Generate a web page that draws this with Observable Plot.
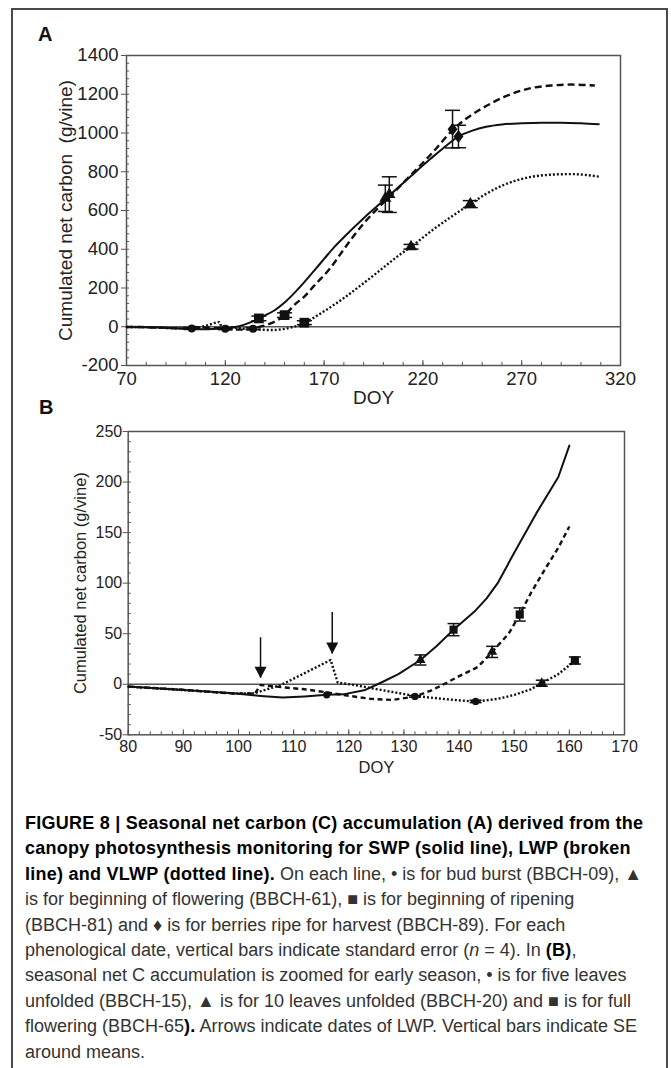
<!DOCTYPE html>
<html><head><meta charset="utf-8">
<script src="https://cdn.jsdelivr.net/npm/d3@7"></script>
<script src="https://cdn.jsdelivr.net/npm/@observablehq/plot@0.6"></script>
<style>
body{margin:0;background:#fff;font-family:"Liberation Sans",Arial,Helvetica,sans-serif;}
#page{position:relative;width:671px;height:1068px;overflow:hidden;background:#fff;}
#border{position:absolute;left:11px;top:8px;width:653px;height:1090px;border:2px solid #4a4a4a;}
.plabel{position:absolute;font-weight:bold;font-size:20px;line-height:20px;color:#111;}
#a{position:absolute;left:0;top:0}
#b{position:absolute;left:0;top:400px}
#cap{position:absolute;left:25px;top:811px;font-size:18px;line-height:25.4px;color:#333;}
#cap div{white-space:nowrap}
#cap b{color:#000;letter-spacing:0.25px}
</style></head><body><div id="page">
<div id="border"></div>
<div class="plabel" style="left:38px;top:24px">A</div>
<div class="plabel" style="left:39px;top:397px">B</div>
<div id="a"></div>
<div id="b"></div>
<div id="cap">
<div><b>FIGURE 8 | Seasonal net carbon (C) accumulation (A) derived from the</b></div>
<div><b>canopy photosynthesis monitoring for SWP (solid line), LWP (broken</b></div>
<div><b>line) and VLWP (dotted line).</b> On each line, • is for bud burst (BBCH-09), ▲</div>
<div>is for beginning of flowering (BBCH-61), ■ is for beginning of ripening</div>
<div>(BBCH-81) and ♦ is for berries ripe for harvest (BBCH-89). For each</div>
<div>phenological date, vertical bars indicate standard error (<i>n</i> = 4). In <b>(B)</b>,</div>
<div>seasonal net C accumulation is zoomed for early season, • is for five leaves</div>
<div>unfolded (BBCH-15), ▲ is for 10 leaves unfolded (BBCH-20) and ■ is for full</div>
<div>flowering (BBCH-65<b>).</b> Arrows indicate dates of LWP. Vertical bars indicate SE</div>
<div>around means.</div>
</div>
</div>
<script>
// ---------- Panel A data (DOY, cumulated net carbon g/vine) ----------
const swpA = [[70,-1],[80,-2],[90,-6],[100,-9],[108,-13],[116,-10],[123,-5],[127,3],[133,24],[139,53],[145,85],[150,125],[155,175],[160,230],[165,290],[170,350],[175,410],[180,462],[190,560],[202,668],[214,778],[224,868],[231,928],[238,982],[245,1012],[252,1032],[260,1044],[270,1050],[280,1053],[290,1053],[300,1050],[309,1045]];
const lwpA = [[70,-1],[80,-2],[90,-6],[99,-9],[103,-9],[104,-1],[108,-3],[112,-5],[116,-8],[119,-10],[124,-14],[128,-15],[132,-12],[137,-1],[143,17],[146,32],[149,50],[151,69],[155,113],[160,156],[165,212],[173,301],[180,400],[190,533],[198,620],[205,690],[215,795],[225,900],[235,1015],[242,1075],[252,1139],[262,1190],[274,1230],[285,1245],[295,1250],[307,1245]];
const vlwpA = [[70,-1],[80,-2],[90,-6],[100,-9],[103,-9],[108,-1],[112,11],[117,24],[118,2],[121,-1],[126,-6],[132,-12],[138,-15],[143,-17],[150,-11],[155,1],[158,10],[161,23],[165,48],[170,80],[175,113],[180,148],[190,225],[200,305],[207,362],[214,413],[225,500],[235,572],[244,633],[251,680],[260,728],[274,772],[285,785],[295,788],[309,775]];
const circlesA = [{s:"SWP",doy:103,c:-9,se:5},{s:"LWP",doy:120,c:-10,se:5},{s:"VLWP",doy:134,c:-10,se:5}];
const squaresA = [{s:"SWP",doy:137,c:43,se:12},{s:"LWP",doy:150,c:60,se:12},{s:"VLWP",doy:160,c:21,se:10}];
const trianglesA = [{s:"SWP",doy:201,c:663,se:68},{s:"LWP",doy:203,c:682,se:92},{s:"VLWP",doy:214,c:413,se:12},{s:"VLWP",doy:244,c:633,se:18}];
const diamondsA = [{s:"LWP",doy:235,c:1020,se:97},{s:"SWP",doy:238,c:982,se:58}];
const xTicksA = [70,120,170,220,270,320];
const yTicksA = [-200,0,200,400,600,800,1000,1200,1400];

// ---------- Panel B data ----------
const swpB = [[80,-2.3],[85,-4],[90,-5.7],[95,-7.5],[99,-9],[104,-11.6],[108,-13.2],[112,-12],[116,-10.5],[119,-10],[123,-5.6],[126,2],[129,10],[133,24],[136,38],[139,54],[143,73],[145,85],[147,100],[150,130],[154,169],[158,205],[160,236]];
const lwpB = [[80,-2.3],[90,-5.5],[99,-9.3],[103,-9],[104,-0.7],[108,-3],[112,-5],[116,-8],[119,-10.6],[124,-14.5],[128,-15.5],[132,-12.2],[135,-6],[137,-0.7],[140,8],[143.4,17],[146,32],[149,50],[151,69],[153,90],[155.5,113],[158,135],[160,156]];
const vlwpB = [[80,-2.3],[90,-5.7],[99,-9],[102.8,-9],[107.7,-0.7],[112,11],[116.7,24],[118,1.6],[121,-0.7],[125.8,-5.6],[132,-11.6],[138,-15],[143,-17.2],[147,-14.5],[150,-10.6],[153,-5],[155,1],[158,10],[161.2,24]];
const circlesB = [{s:"SWP",doy:116,c:-10.5,se:0},{s:"LWP",doy:132,c:-12,se:0.8},{s:"VLWP",doy:143,c:-17,se:1.2}];
const trianglesB = [{s:"SWP",doy:133,c:24,se:5},{s:"LWP",doy:146,c:32,se:5.5},{s:"VLWP",doy:155,c:1,se:3}];
const squaresB = [{s:"SWP",doy:139,c:54,se:6},{s:"LWP",doy:151,c:69,se:6.5},{s:"VLWP",doy:161,c:23.5,se:3.5}];
const arrowDoy = [104, 117];
const arrowTop = [46, 71];
const arrowTip = [6, 30];
const xTicksB = [80,90,100,110,120,130,140,150,160,170];
const yTicksB = [-50,0,50,100,150,200,250];

const FONT = "'Liberation Sans', Arial, Helvetica, sans-serif";
const INK = "#111";
const AXIS = "#555";

const capSymbol = {draw(ctx, size){const w = Math.sqrt(size/Math.PI); ctx.moveTo(-w,0); ctx.lineTo(w,0);}};
const diamondSymbol = {draw(ctx, size){const r = Math.sqrt(size/Math.PI); ctx.moveTo(0,-1.3*r); ctx.lineTo(r,0); ctx.lineTo(0,1.3*r); ctx.lineTo(-r,0); ctx.closePath();}};
const downTriangle = {draw(ctx, size){const r = Math.sqrt(size/Math.PI); ctx.moveTo(0,0); ctx.lineTo(-r,-1.9*r); ctx.lineTo(r,-1.9*r); ctx.closePath();}};

const toRows = (arr) => arr.map(([doy, c]) => ({doy, c}));
const caps = (arr) => arr.filter(d => d.se > 0).flatMap(d => [{doy:d.doy, c:d.c + d.se}, {doy:d.doy, c:d.c - d.se}]);

function panel({swp, lwp, vlwp, markers, xDomain, yDomain, xTicks, yTicks, xMinor, yMinor, margins, height, fs, dash, capR, titleDx, doyDy, yPad, curve, extra}) {
  const allErr = markers.flatMap(m => m.data);
  return Plot.plot({
    width: 671, height,
    marginLeft: margins[0], marginRight: margins[1], marginTop: margins[2], marginBottom: margins[3],
    style: {fontFamily: FONT, fontSize: fs + "px", color: "#222", background: "transparent", overflow: "visible"},
    x: {domain: xDomain, label: null},
    y: {domain: yDomain, label: null},
    marks: [
      Plot.ruleY([0], {stroke: AXIS, strokeWidth: 1.5}),
      Plot.frame({stroke: AXIS, strokeWidth: 1.5}),
      Plot.axisY({ticks: yMinor, tickSize: -3, fill: "none", stroke: AXIS, label: null}),
      Plot.axisY({ticks: yTicks, tickSize: 5, fill: "none", stroke: AXIS, label: null}),
      Plot.axisY({ticks: yTicks, tickSize: 0, tickPadding: yPad, tickFormat: d => String(d), fill: "#222", fontSize: fs, label: null}),
      Plot.axisX({ticks: xMinor, tickSize: -3, fill: "none", stroke: AXIS, label: null}),
      Plot.axisX({ticks: xTicks, tickSize: -5, fill: "none", stroke: AXIS, label: null}),
      Plot.axisX({ticks: xTicks, tickSize: 0, tickPadding: 6, tickFormat: d => String(d), fill: "#222", fontSize: fs, label: null}),
      Plot.line(toRows(swp), {x: "doy", y: "c", stroke: INK, strokeWidth: 2, curve}),
      Plot.line(toRows(lwp), {x: "doy", y: "c", stroke: INK, strokeWidth: 2.4, strokeDasharray: dash[0], strokeLinecap: "butt", curve}),
      Plot.line(toRows(vlwp), {x: "doy", y: "c", stroke: INK, strokeWidth: 2.4, strokeDasharray: dash[1], strokeLinecap: "butt", curve}),
      ...(extra || []),
      Plot.ruleX(allErr.filter(d => d.se > 0), {x: "doy", y1: d => d.c - d.se, y2: d => d.c + d.se, stroke: INK, strokeWidth: 1.5}),
      Plot.dot(caps(allErr), {x: "doy", y: "c", symbol: capSymbol, r: capR, stroke: INK, strokeWidth: 1.5, fill: "none"}),
      ...markers.map(m => Plot.dot(m.data, {x: "doy", y: "c", symbol: m.symbol, r: m.r, fill: INK, stroke: "none"})),
      Plot.text(["Cumulated net carbon" + titleDx[1] + "(g/vine)"], {frameAnchor: "left", textAnchor: "middle", lineAnchor: "middle", rotate: -90, dx: titleDx[0], fontSize: fs + 0.5, fill: "#222"}),
      Plot.text(["DOY"], {frameAnchor: "bottom", textAnchor: "middle", lineAnchor: "middle", dy: doyDy, fontSize: fs + 0.5, fill: "#222"})
    ]
  });
}

const chartA = panel({
  swp: swpA, lwp: lwpA, vlwp: vlwpA,
  markers: [
    {data: circlesA, symbol: "circle", r: 4},
    {data: squaresA, symbol: "square", r: 5.5},
    {data: trianglesA, symbol: "triangle", r: 4.5},
    {data: diamondsA, symbol: diamondSymbol, r: 5}
  ],
  xDomain: [70, 320], yDomain: [-200, 1400],
  xTicks: xTicksA, yTicks: yTicksA,
  xMinor: d3.range(70, 321, 10), yMinor: d3.range(-200, 1401, 40),
  margins: [126, 51, 55, 45], height: 410, fs: 18.5,
  dash: ["7,4", "2,2"], capR: 7.5, yPad: 8,
  titleDx: [-61, "\u00a0 "], doyDy: 32, curve: "monotone-x"
});
document.getElementById("a").appendChild(chartA);

const chartB = panel({
  swp: swpB, lwp: lwpB, vlwp: vlwpB,
  markers: [
    {data: circlesB, symbol: "circle", r: 3.6},
    {data: trianglesB, symbol: "triangle", r: 3.8},
    {data: squaresB, symbol: "square", r: 4.6}
  ],
  xDomain: [80, 170], yDomain: [-50, 250],
  xTicks: xTicksB, yTicks: yTicksB,
  xMinor: d3.range(80, 171, 2), yMinor: d3.range(-50, 251, 10),
  margins: [127.7, 47, 31, 45.7], height: 380, fs: 16,
  dash: ["5,3.5", "2,2"], capR: 6, yPad: 6,
  titleDx: [-47.7, " "], doyDy: 33, curve: "linear",
  extra: [
    Plot.ruleX(arrowDoy.map((d, i) => ({doy: d, top: arrowTop[i], tip: arrowTip[i]})), {x: "doy", y1: "top", y2: "tip", stroke: INK, strokeWidth: 1.5}),
    Plot.dot(arrowDoy.map((d, i) => ({doy: d, tip: arrowTip[i]})), {x: "doy", y: "tip", symbol: downTriangle, r: 6, fill: INK, stroke: "none"})
  ]
});
document.getElementById("b").appendChild(chartB);
</script>
</body></html>
